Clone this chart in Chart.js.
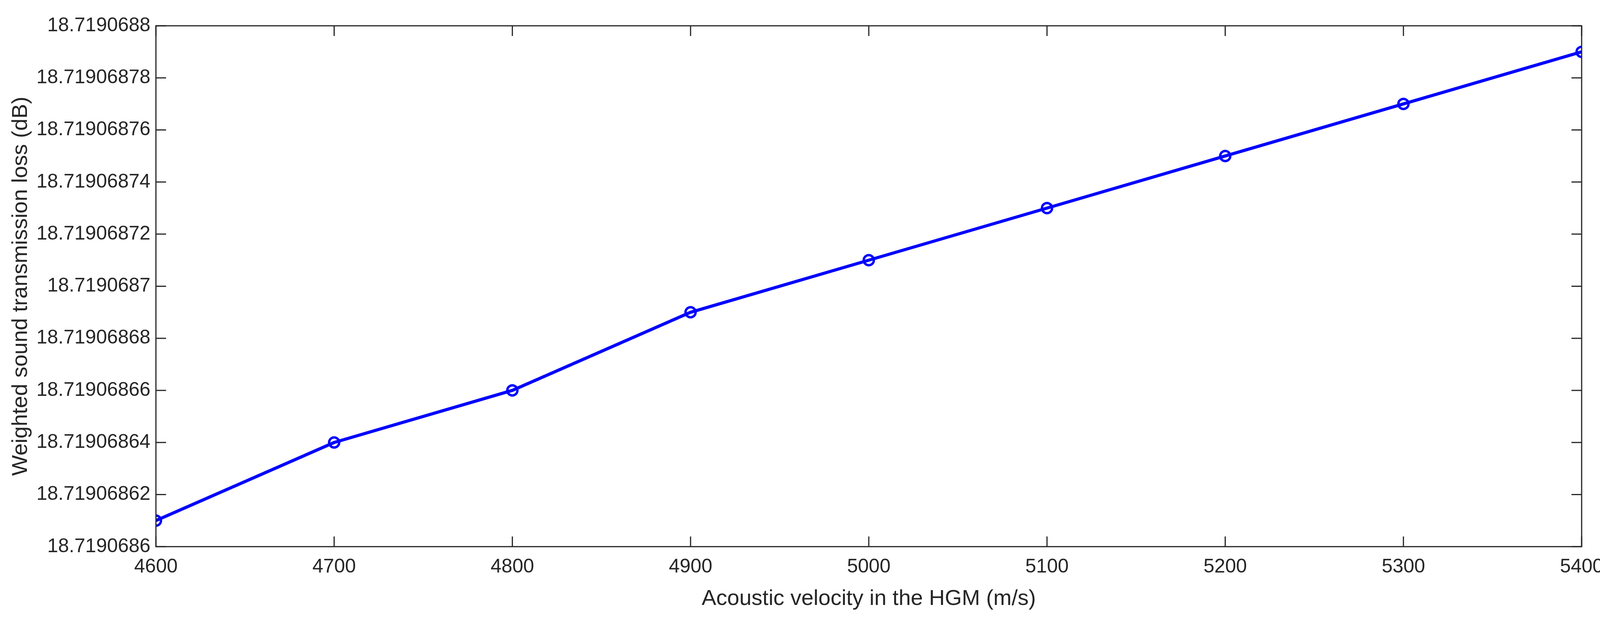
<!DOCTYPE html>
<html lang="en">
<head>
<meta charset="UTF-8">
<title>Weighted sound transmission loss</title>
<script src="https://cdn.jsdelivr.net/npm/chart.js"></script>
<style>
  html, body { margin: 0; padding: 0; background: #fff; }
  #wrap { width: 4149px; height: 1630px; }
</style>
</head>
<body>
<div id="wrap"><canvas id="myChart"></canvas></div>
<script>
// data
const velocities = [4600, 4700, 4800, 4900, 5000, 5100, 5200, 5300, 5400];
const lossValues = [18.71906861, 18.71906864, 18.71906866, 18.71906869, 18.71906871,
                    18.71906873, 18.71906875, 18.71906877, 18.71906879];
const xTicks = [4600, 4700, 4800, 4900, 5000, 5100, 5200, 5300, 5400];
const yTicks = [18.7190686, 18.71906862, 18.71906864, 18.71906866, 18.71906868,
                18.7190687, 18.71906872, 18.71906874, 18.71906876, 18.71906878, 18.7190688];

// inward tick marks on all four sides plus the box
const boxTicks = {
    id: 'boxTicks',
    afterDraw(chart) {
        const { ctx, chartArea: a, scales } = chart;
        const len = 26;
        ctx.save();
        ctx.strokeStyle = '#262626';
        ctx.lineWidth = 3;
        ctx.strokeRect(a.left, a.top, a.right - a.left, a.bottom - a.top);
        ctx.beginPath();
        xTicks.forEach(v => {
            const x = scales.x.getPixelForValue(v);
            ctx.moveTo(x, a.bottom); ctx.lineTo(x, a.bottom - len);
            ctx.moveTo(x, a.top); ctx.lineTo(x, a.top + len);
        });
        yTicks.forEach(v => {
            const y = scales.y.getPixelForValue(v);
            ctx.moveTo(a.left, y); ctx.lineTo(a.left + len, y);
            ctx.moveTo(a.right, y); ctx.lineTo(a.right - len, y);
        });
        ctx.stroke();
        ctx.restore();
    }
};

const font = { family: 'Arial, "Liberation Sans", sans-serif', size: 50 };

new Chart(document.getElementById('myChart'), {
    type: 'line',
    data: {
        datasets: [{
            data: velocities.map((v, i) => ({ x: v, y: lossValues[i] })),
            borderColor: '#0000ff',
            borderWidth: 8,
            pointRadius: 13,
            pointBorderWidth: 6,
            pointBackgroundColor: 'rgba(0,0,0,0)',
            pointBorderColor: '#0000ff',
            tension: 0
        }]
    },
    options: {
        responsive: true,
        maintainAspectRatio: false,
        animation: false,
        layout: { padding: { top: 66, right: 100, left: 20, bottom: 60 } },
        plugins: { legend: { display: false }, tooltip: { enabled: false } },
        scales: {
            x: {
                type: 'linear',
                min: 4600, max: 5400,
                afterBuildTicks: s => { s.ticks = xTicks.map(v => ({ value: v })); },
                grid: { display: false },
                border: { display: false },
                ticks: { font, color: '#262626', padding: 14, callback: v => String(v) },
                title: { display: true, text: 'Acoustic velocity in the HGM (m/s)',
                         font: { family: font.family, size: 56 }, color: '#262626' }
            },
            y: {
                min: 18.7190686, max: 18.7190688,
                afterBuildTicks: s => { s.ticks = yTicks.map(v => ({ value: v })); },
                grid: { display: false },
                border: { display: false },
                ticks: { font, color: '#262626', padding: 6,
                         callback: v => parseFloat(v.toFixed(8)).toString() },
                title: { display: true, text: 'Weighted sound transmission loss (dB)',
                         font: { family: font.family, size: 56 }, color: '#262626',
                         padding: { top: 0, bottom: 0 } }
            }
        }
    },
    plugins: [boxTicks]
});
</script>
</body>
</html>
